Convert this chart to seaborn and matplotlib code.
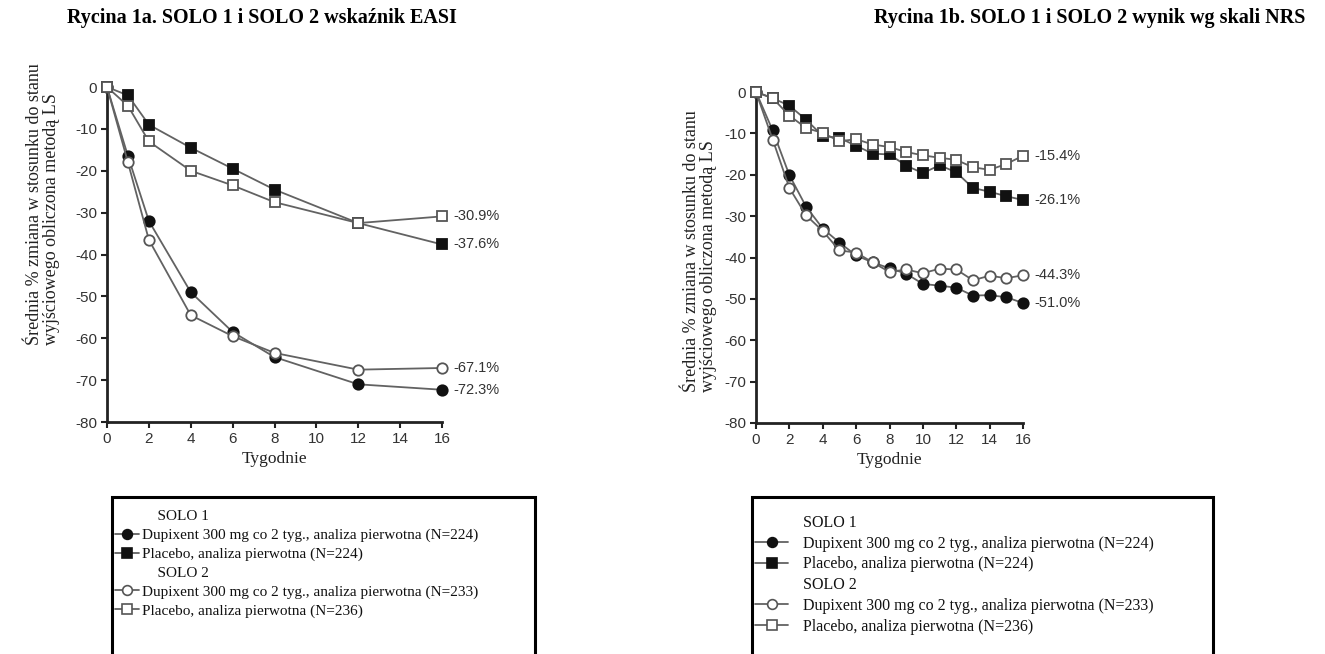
import matplotlib
matplotlib.use("Agg")
import matplotlib.pyplot as plt
from matplotlib.lines import Line2D
from matplotlib.patches import Rectangle
import seaborn as sns
import pandas as pd

# ---------------- data ----------------
weeks_easi = [0, 1, 2, 4, 6, 8, 12, 16]
easi_solo1_dupi = [0, -16.5, -32.0, -49.0, -58.5, -64.5, -71.0, -72.3]
easi_solo1_plac = [0, -2.0, -9.0, -14.5, -19.5, -24.5, -32.5, -37.6]
easi_solo2_dupi = [0, -18.0, -36.5, -54.5, -59.5, -63.5, -67.5, -67.1]
easi_solo2_plac = [0, -4.5, -13.0, -20.0, -23.5, -27.5, -32.5, -30.9]

weeks_nrs = list(range(0, 17))
nrs_solo1_dupi = [0, -9.3, -20.1, -27.7, -33.0, -36.4, -39.5, -41.2, -42.6, -43.9,
                  -46.4, -46.8, -47.3, -49.2, -49.1, -49.6, -51.0]
nrs_solo2_dupi = [0, -11.5, -23.2, -29.8, -33.6, -38.3, -38.8, -41.2, -43.5, -42.9,
                  -43.8, -42.7, -42.9, -45.5, -44.4, -45.0, -44.3]
nrs_solo1_plac = [0, -1.5, -3.3, -6.7, -10.6, -11.1, -13.0, -14.9, -15.1, -17.8,
                  -19.6, -17.7, -19.4, -23.2, -24.1, -25.2, -26.1]
nrs_solo2_plac = [0, -1.5, -5.7, -8.7, -9.9, -11.9, -11.4, -12.7, -13.3, -14.5,
                  -15.3, -15.9, -16.4, -18.2, -18.8, -17.4, -15.4]

end_labels_easi = ["-72.3%", "-37.6%", "-67.1%", "-30.9%"]
end_labels_nrs = ["-51.0%", "-26.1%", "-44.3%", "-15.4%"]

titles = ["Rycina 1a. SOLO 1 i SOLO 2 wskaźnik EASI",
          "Rycina 1b. SOLO 1 i SOLO 2 wynik wg skali NRS"]
ylabel = "Średnia % zmiana w stosunku do stanu\nwyjściowego obliczona metodą LS"
xlabel = "Tygodnie"
legend_labels = ["SOLO 1",
                 "Dupixent 300 mg co 2 tyg., analiza pierwotna (N=224)",
                 "Placebo, analiza pierwotna (N=224)",
                 "SOLO 2",
                 "Dupixent 300 mg co 2 tyg., analiza pierwotna (N=233)",
                 "Placebo, analiza pierwotna (N=236)"]
xticks = list(range(0, 17, 2))
yticks = list(range(0, -81, -10))

# ---------------- style ----------------
sns.set_theme(style="ticks")
plt.rcParams["font.family"] = ["Liberation Sans", "DejaVu Sans"]
plt.rcParams["axes.unicode_minus"] = False
SERIF = ["Liberation Serif", "DejaVu Serif"]

W, H = 1325, 654
fig = plt.figure(figsize=(W / 100, H / 100), dpi=100)
fig.patch.set_facecolor("white")


def fx(px):
    return px / W


def fy(py):
    return 1 - py / H


LINE_COLOR = "#626262"
series_styles = [
    dict(marker="o", markerfacecolor="#111111", markeredgecolor="#111111"),
    dict(marker="s", markerfacecolor="#111111", markeredgecolor="#111111"),
    dict(marker="o", markerfacecolor="white", markeredgecolor="#555555"),
    dict(marker="s", markerfacecolor="white", markeredgecolor="#555555"),
]


def draw_panel(rect, weeks, series, end_labels, title_x, title, ylab_x, ylab_bottom):
    ax = fig.add_axes(rect)
    for vals, st in zip(series, series_styles):
        df = pd.DataFrame({"week": weeks, "val": vals})
        sns.lineplot(data=df, x="week", y="val", ax=ax, color=LINE_COLOR,
                     linewidth=1.3, markersize=7.5, markeredgewidth=1.3,
                     clip_on=False, zorder=3, **st)
    for vals, lab in zip(series, end_labels):
        ax.annotate(lab, xy=(weeks[-1], vals[-1]), xytext=(8, 0),
                    textcoords="offset points", va="center", ha="left",
                    fontsize=10.5, color="#333333", annotation_clip=False)
    ax.set_xlim(0, 16)
    ax.set_ylim(-80, 0)
    ax.set_xticks(xticks)
    ax.set_yticks(yticks)
    ax.tick_params(axis="both", direction="out", length=4, width=1.5,
                   labelsize=11, labelcolor="#333333", color="#222222", pad=3)
    for s in ["left", "bottom"]:
        ax.spines[s].set_linewidth(2.0)
        ax.spines[s].set_color("#222222")
    sns.despine(ax=ax)
    ax.set_ylabel("")
    ax.set_xlabel(xlabel, fontsize=12.5, family=SERIF, color="#222222", labelpad=4)
    fig.text(ylab_x, ylab_bottom, ylabel, rotation=90, ha="left", va="center",
             multialignment="left", fontsize=13, family=SERIF, color="#222222",
             linespacing=0.95, rotation_mode="anchor")
    fig.text(title_x, fy(18), title, ha="center", va="center", fontsize=14.5,
             fontweight="bold", family=SERIF, color="black")
    return ax


ax1 = draw_panel([fx(107), fy(422), fx(442 - 107), (422 - 87) / H],
                 weeks_easi,
                 [easi_solo1_dupi, easi_solo1_plac, easi_solo2_dupi, easi_solo2_plac],
                 end_labels_easi, fx(262), titles[0], fx(43), fy(345))
ax2 = draw_panel([fx(756), fy(423), fx(1023 - 756), (423 - 92) / H],
                 weeks_nrs,
                 [nrs_solo1_dupi, nrs_solo1_plac, nrs_solo2_dupi, nrs_solo2_plac],
                 end_labels_nrs, fx(1090), titles[1], fx(700), fy(392))


# ---------------- legends ----------------
def make_handles():
    hs = [Line2D([], [], linestyle="none", marker=None)]
    for st in series_styles[:2]:
        hs.append(Line2D([], [], color=LINE_COLOR, linewidth=1.3, markersize=7,
                         markeredgewidth=1.2, **st))
    hs.append(Line2D([], [], linestyle="none", marker=None))
    for st in series_styles[2:]:
        hs.append(Line2D([], [], color=LINE_COLOR, linewidth=1.3, markersize=7,
                         markeredgewidth=1.2, **st))
    return hs


legend_specs = [
    # x0, x1, box top, anchor top, fontsize, labelspacing, handlelength, handletextpad, labels
    (112, 535, 497, 505, 11.0, 0.33, 1.6, 0.2,
     ["    " + legend_labels[0], legend_labels[1], legend_labels[2],
      "    " + legend_labels[3], legend_labels[4], legend_labels[5]]),
    (752, 1213, 497, 510, 11.5, 0.30, 2.1, 0.9, legend_labels),
]
for (x0, x1, top, atop, fs, spacing, hl, htp, labs) in legend_specs:
    box = Rectangle((fx(x0), fy(H + 20)), fx(x1 - x0), (H + 20 - top) / H,
                    transform=fig.transFigure, fill=False, edgecolor="black",
                    linewidth=2.2, clip_on=False)
    fig.add_artist(box)
    fig.legend(make_handles(), labs, loc="upper left",
               bbox_to_anchor=(fx(x0 - 2), fy(atop)), frameon=False,
               prop={"family": SERIF, "size": fs}, handlelength=hl,
               handletextpad=htp, labelspacing=spacing, borderaxespad=0,
               borderpad=0.3, labelcolor="#111111")

fig.savefig("out.png", dpi=100, facecolor="white")
